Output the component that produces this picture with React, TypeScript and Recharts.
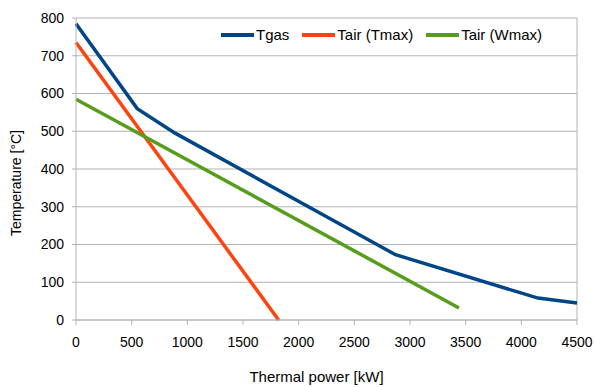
import { CartesianGrid, Label, Line, LineChart, ReferenceLine, XAxis, YAxis } from "recharts";

const xTicks = [0, 500, 1000, 1500, 2000, 2500, 3000, 3500, 4000, 4500];
const yTicks = [0, 100, 200, 300, 400, 500, 600, 700, 800];

const tgas = [
  { x: 0, y: 785 },
  { x: 550, y: 560 },
  { x: 890, y: 495 },
  { x: 2870, y: 173 },
  { x: 4150, y: 58 },
  { x: 4500, y: 45 },
];

const tairTmax = [
  { x: 0, y: 735 },
  { x: 1820, y: 0 },
];

const tairWmax = [
  { x: 0, y: 585 },
  { x: 3440, y: 32 },
];

const series = [
  { name: "Tgas", data: tgas, color: "#004586" },
  { name: "Tair (Tmax)", data: tairTmax, color: "#ff420e" },
  { name: "Tair (Wmax)", data: tairWmax, color: "#579d1c" },
];

const font = "'Liberation Sans', Arial, sans-serif";
const grid = "#b3b3b3";

function ChartLegend() {
  return (
    <div
      style={{
        position: "absolute",
        top: 26,
        left: 221,
        display: "flex",
        alignItems: "center",
        fontFamily: font,
        fontSize: 15,
        lineHeight: "17px",
        color: "#000",
        whiteSpace: "nowrap",
      }}
    >
      {series.map((s, i) => (
        <div key={s.name} style={{ display: "flex", alignItems: "center", marginLeft: i === 0 ? 0 : 13 }}>
          <span style={{ display: "inline-block", width: 33, height: 4, background: s.color, marginRight: 2 }} />
          <span>{s.name}</span>
        </div>
      ))}
    </div>
  );
}

function YTitle({ viewBox }: any) {
  const cx = 16;
  const cy = viewBox.y + viewBox.height / 2 + 14;
  return (
    <text
      x={cx}
      y={cy}
      transform={`rotate(-90, ${cx}, ${cy})`}
      textAnchor="middle"
      dominantBaseline="central"
      style={{ fill: "#000", fontSize: 14, fontFamily: font }}
    >
      Temperature [°C]
    </text>
  );
}

export default function App() {
  return (
    <div style={{ position: "absolute", left: 0, top: 0, width: 595, height: 387, background: "#fff" }}>
      <LineChart width={595} height={387} margin={{ top: 18, right: 18, bottom: 0, left: 0 }}>
        <CartesianGrid vertical={false} stroke={grid} />
        <XAxis
          dataKey="x"
          type="number"
          domain={[0, 4500]}
          ticks={xTicks}
          allowDuplicatedCategory={false}
          height={67}
          stroke={grid}
          tickSize={5}
          tickMargin={12}
          tick={{ fill: "#000", fontSize: 14, fontFamily: font }}
        >
          <Label
            value="Thermal power [kW]"
            position="insideBottom"
            offset={5}
            dx={-10}
            style={{ fill: "#000", fontSize: 15, fontFamily: font }}
          />
        </XAxis>
        <YAxis
          dataKey="y"
          type="number"
          domain={[0, 800]}
          ticks={yTicks}
          width={76}
          stroke={grid}
          tickSize={4}
          tickMargin={8}
          tick={{ fill: "#000", fontSize: 14, fontFamily: font }}
        >
          <Label content={<YTitle />} />
        </YAxis>
        <ReferenceLine x={4500} stroke={grid} />
        {series.map((s) => (
          <Line
            key={s.name}
            data={s.data}
            dataKey="y"
            name={s.name}
            type="linear"
            stroke={s.color}
            strokeWidth={3.5}
            dot={false}
            isAnimationActive={false}
          />
        ))}
      </LineChart>
      <ChartLegend />
    </div>
  );
}
